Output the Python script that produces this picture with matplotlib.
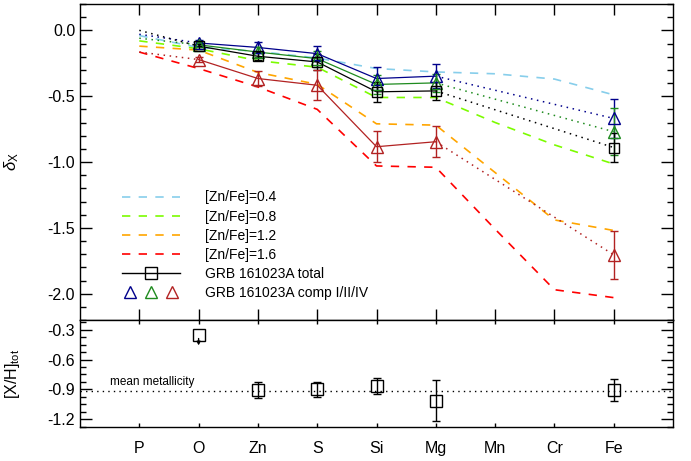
import numpy as np
import matplotlib
matplotlib.use("Agg")
import matplotlib.pyplot as plt
from matplotlib.lines import Line2D
from matplotlib.legend_handler import HandlerTuple
from matplotlib.ticker import MultipleLocator, FixedLocator

plt.rcParams['font.family'] = ['Liberation Sans', 'DejaVu Sans']
plt.rcParams['mathtext.fontset'] = 'custom'
plt.rcParams['mathtext.rm'] = 'Liberation Sans'
plt.rcParams['mathtext.it'] = 'Liberation Sans:italic'

# ---------------- data ----------------
elements = ['P', 'O', 'Zn', 'S', 'Si', 'Mg', 'Mn', 'Cr', 'Fe']
xpos = np.arange(1, len(elements) + 1)

# depletion model curves  ([Zn/Fe] = 0.4, 0.8, 1.2, 1.6)
model_labels = ['[Zn/Fe]=0.4', '[Zn/Fe]=0.8', '[Zn/Fe]=1.2', '[Zn/Fe]=1.6']
model_04 = [-0.04, -0.13, -0.16, -0.21, -0.29, -0.316, -0.33, -0.37, -0.49]
model_08 = [-0.08, -0.14, -0.23, -0.28, -0.51, -0.51, -0.70, -0.87, -1.015]
model_12 = [-0.12, -0.15, -0.32, -0.41, -0.71, -0.72, -1.08, -1.44, -1.52]
model_16 = [-0.165, -0.29, -0.43, -0.60, -1.03, -1.04, -1.51, -1.97, -2.03]
model_colors = ['#87CEEB', '#7CFC00', '#FFA500', '#FF0000']

# observed elements (O, Zn, S, Si, Mg, Fe)
obs_elements = ['O', 'Zn', 'S', 'Si', 'Mg', 'Fe']
total = [-0.12, -0.197, -0.24, -0.467, -0.46, -0.89]
total_err = [0.02, 0.03, 0.06, 0.075, 0.07, 0.11]
comp1 = [-0.096, -0.13, -0.177, -0.366, -0.348, -0.669]
comp1_err = [0.02, 0.04, 0.056, 0.09, 0.09, 0.146]
comp2 = [-0.11, -0.165, -0.215, -0.411, -0.399, -0.77]
comp2_err = [0.02, 0.04, 0.06, 0.07, 0.07, 0.18]
comp4 = [-0.222, -0.366, -0.417, -0.884, -0.846, -1.705]
comp4_err = [0.02, 0.056, 0.115, 0.117, 0.117, 0.18]
# starting values of the dotted extrapolation at P
p_start = {'total': 0.0, 'comp1': -0.03, 'comp2': -0.06, 'comp4': -0.165}

# [X/H]_tot
xh = [-0.347, -0.907, -0.90, -0.867, -1.014, -0.907]
xh_err = [0.0, 0.08, 0.075, 0.08, 0.21, 0.112]
mean_metallicity = -0.914

# ---------------- figure ----------------
fig = plt.figure(figsize=(6.91, 4.61), dpi=100)
L, R = 80 / 691, 673 / 691
ax = fig.add_axes([L, (461 - 320) / 461, R - L, 316 / 461])
ax2 = fig.add_axes([L, (461 - 427) / 461, R - L, 107 / 461])

pos = {e: i + 1 for i, e in enumerate(elements)}
ox = np.array([pos[e] for e in obs_elements])

models = [model_04, model_08, model_12, model_16]
for m, c in zip(models, model_colors):
    ax.plot(xpos, m, color=c, lw=1.2, dashes=(5, 5))

series = [('comp1', comp1, comp1_err, '#00008B', '^'),
          ('comp2', comp2, comp2_err, '#1E8B1E', '^'),
          ('total', total, total_err, 'black', 's'),
          ('comp4', comp4, comp4_err, '#B22222', '^')]
for key, vals, err, col, mk in series:
    vals = np.asarray(vals)
    # dotted extrapolation P -> O and Mg -> Fe
    ax.plot([pos['P'], ox[0]], [p_start[key], vals[0]], color=col, lw=1.1, ls=(0, (1, 3)))
    ax.plot(ox[4:6], vals[4:6], color=col, lw=1.1, ls=(0, (1, 3)))
    ax.plot(ox[:5], vals[:5], color=col, lw=0.9)
    ax.errorbar(ox, vals, yerr=err, fmt=mk, mfc='none', mec=col, ecolor=col,
                ms=8 if mk == '^' else 7, mew=1.0, elinewidth=1.0, capsize=3, capthick=1.0)

ax.set_xlim(0, 10)
ax.set_ylim(-2.2, 0.2)
ax.yaxis.set_major_locator(MultipleLocator(0.5))
ax.yaxis.set_minor_locator(MultipleLocator(0.1))
ax.xaxis.set_major_locator(FixedLocator(xpos))
ax.set_xticklabels([])
ax.set_yticklabels(['' if abs(v) > 2.05 or v > 0.05 else f'{v:.1f}'.replace('-0.0', '0.0')
                    for v in ax.get_yticks()])
ax.tick_params(axis='both', which='both', direction='in', top=True, right=True)
ax.tick_params(axis='y', which='major', length=8.5, labelsize=11.5, width=1)
ax.tick_params(axis='y', which='minor', length=4, width=1)
ax.tick_params(axis='x', which='major', length=8, width=1)
ax.set_ylabel(r'$\delta_{\rm X}$', fontsize=12)
ax.yaxis.set_label_coords(-0.1, 0.5)

# legend
handles = [Line2D([], [], color=c, lw=1.2, dashes=(5, 5)) for c in model_colors]
handles.append(Line2D([], [], color='black', lw=1.0, marker='s', mfc='none', ms=8, mew=1.0))
tri = tuple(Line2D([], [], ls='none', marker='^', mfc='none', mec=c, ms=8, mew=1.0)
            for c in ['#00008B', '#1E8B1E', '#B22222'])
handles.append(tri)
labels = model_labels + ['GRB 161023A total', 'GRB 161023A comp I/II/IV']
ax.legend(handles, labels, loc='upper left', bbox_to_anchor=(0.071, 0.41), frameon=False,
          fontsize=10, handlelength=4.2, handletextpad=1.8, labelspacing=0.37,
          borderpad=0, borderaxespad=0, numpoints=1,
          handler_map={tuple: HandlerTuple(ndivide=None, pad=0.3)})

for sp in ax.spines.values():
    sp.set_linewidth(1.0)

# ---------------- bottom panel ----------------
xh = np.asarray(xh)
ax2.axhline(mean_metallicity, color='black', lw=1.0, ls=(0, (1, 3)))
ax2.errorbar(ox[1:], xh[1:], yerr=xh_err[1:], fmt='s', mfc='none', mec='black', ecolor='black',
             ms=8, mew=1.0, elinewidth=1.0, capsize=3, capthick=1.0)
ax2.plot(ox[0], xh[0], 's', mfc='none', mec='black', ms=8, mew=1.0)
ax2.annotate('', xy=(ox[0], xh[0] - 0.11), xytext=(ox[0], xh[0] - 0.04),
             arrowprops=dict(arrowstyle='-|>', color='black', lw=1.0, mutation_scale=5,
                             shrinkA=0, shrinkB=0))
ax2.text(0.5, -0.885, 'mean metallicity', fontsize=8.5, ha='left', va='bottom')

ax2.set_xlim(0, 10)
ax2.set_ylim(-1.28, -0.2)
ax2.yaxis.set_major_locator(FixedLocator([-0.3, -0.6, -0.9, -1.2]))
ax2.yaxis.set_minor_locator(MultipleLocator(0.075))
ax2.set_yticklabels(['-0.3', '-0.6', '-0.9', '-1.2'])
ax2.xaxis.set_major_locator(FixedLocator(xpos))
ax2.set_xticklabels(elements)
ax2.tick_params(axis='both', which='both', direction='in', top=True, right=True)
ax2.tick_params(axis='y', which='major', length=8.5, labelsize=11.5, width=1)
ax2.tick_params(axis='y', which='minor', length=4, width=1)
ax2.tick_params(axis='x', which='major', length=3, labelsize=11.5, pad=10, width=1)
ax2.set_ylabel(r'[X/H]$_{\rm tot}$', fontsize=11.5)
ax2.yaxis.set_label_coords(-0.098, 0.5)
for sp in ax2.spines.values():
    sp.set_linewidth(1.0)

fig.savefig('out.png', dpi=100)
